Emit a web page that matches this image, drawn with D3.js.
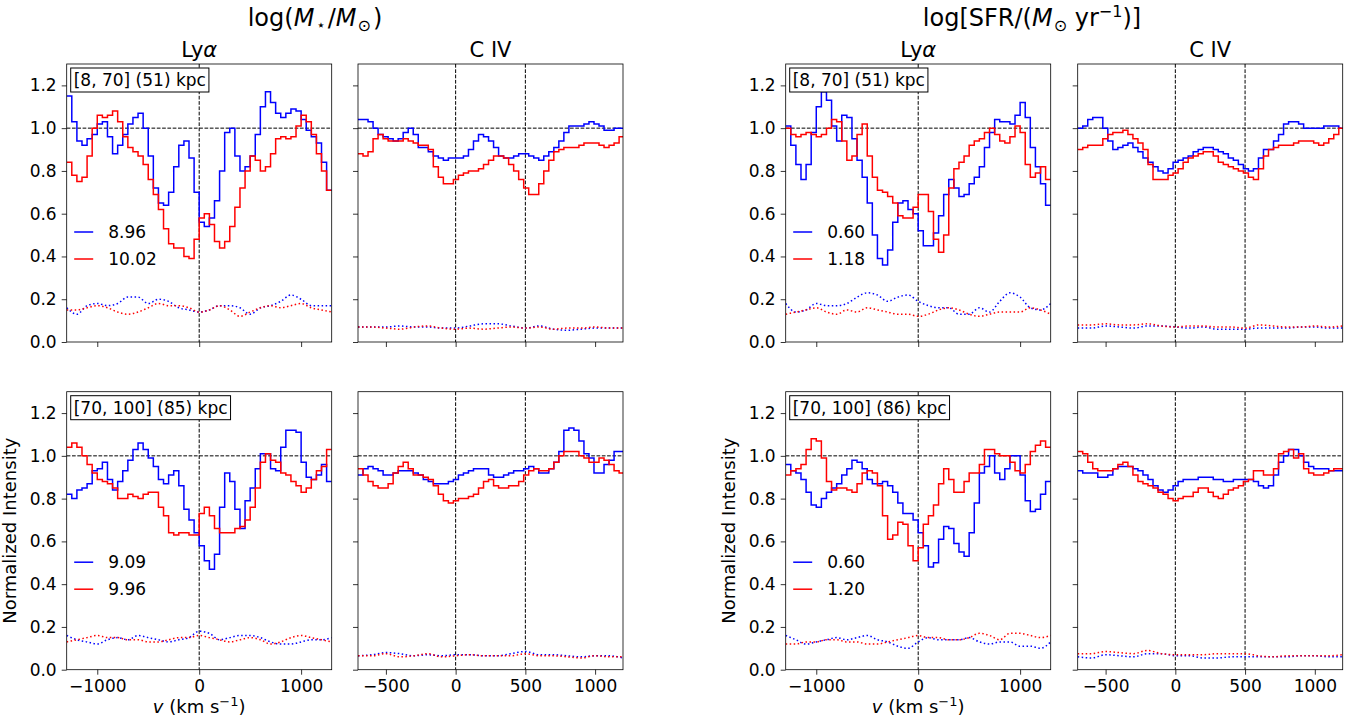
<!DOCTYPE html>
<html lang="en">
<head>
<meta charset="UTF-8">
<title>Lya / C IV stacks</title>
<script src="https://cdn.jsdelivr.net/npm/d3@7"></script>
<style>
  body { margin: 0; background: #fff; }
  svg text { font-family: "DejaVu Sans", sans-serif; fill: #000; }
  .axis path.domain { display: none; }
  .axis line { stroke: #000; stroke-width: 0.8; }
  .axis text { font-size: 17px; font-family: "DejaVu Sans", sans-serif; }
  .ref { stroke: #000; stroke-width: 1; stroke-dasharray: 3.7,1.6; fill: none; }
  .spec { fill: none; stroke-width: 1.5; }
  .err { fill: none; stroke-width: 1.5; stroke-dasharray: 1.5,2.5; }
</style>
</head>
<body>
<svg id="chart" width="1364" height="726"></svg>
<script>
// ---- binning of the stacked spectra (km/s) ----
var lyaBin = {start: -1300, width: 50};
var civBin = {start: -700, width: 36};
// noise curves are read every 100 km/s
var lyaNoiseV = [-1300,-1200,-1100,-1000,-900,-800,-700,-600,-500,-400,-300,-200,-100,0,100,200,300,400,500,600,700,800,900,1000,1100,1200,1300];
var civNoiseV = [-700,-600,-500,-400,-300,-200,-100,0,100,200,300,400,500,600,700,800,900,1000,1100,1200];

var lyaTicks = [-1000, 0, 1000];
var civTicks = [-500, 0, 500, 1000];
var yTicks = [0, 0.2, 0.4, 0.6, 0.8, 1.0, 1.2];
var lyaMarks = [0];
var civMarks = [0, 500];

var massLegend = [["8.96", "10.02"], ["9.09", "9.96"]];
var sfrLegend = [["0.60", "1.18"], ["0.60", "1.20"]];
var massAnnuli = ["[8, 70] (51) kpc", "[70, 100] (85) kpc"];
var sfrAnnuli = ["[8, 70] (51) kpc", "[70, 100] (86) kpc"];

// ---- stellar mass split, inner annulus ----
var massLyaInBlue = [1.15,1.03,0.94,0.92,0.95,0.97,1.02,1.03,0.96,0.88,0.92,0.97,1.02,1.05,1.07,1.00,0.87,0.72,0.65,0.64,0.70,0.82,0.92,0.94,0.86,0.70,0.56,0.54,0.58,0.66,0.80,0.98,1.00,0.87,0.80,0.82,0.87,0.97,1.10,1.17,1.12,1.07,1.05,1.07,1.09,1.08,1.04,0.99,0.96,0.93,0.84,0.71];
var massLyaInRed = [0.84,0.78,0.75,0.77,0.87,1.00,1.06,1.05,1.06,1.08,1.03,0.96,0.91,0.89,0.87,0.83,0.76,0.69,0.62,0.53,0.46,0.44,0.44,0.40,0.39,0.48,0.58,0.60,0.55,0.47,0.44,0.47,0.54,0.63,0.72,0.80,0.87,0.85,0.80,0.82,0.88,0.95,0.96,0.95,0.96,1.01,1.06,1.03,0.97,0.88,0.80,0.71];
var massLyaInBlueErr = [0.16,0.13,0.17,0.18,0.17,0.18,0.21,0.21,0.18,0.20,0.19,0.16,0.15,0.14,0.15,0.17,0.17,0.16,0.13,0.16,0.17,0.19,0.22,0.20,0.17,0.17,0.17];
var massLyaInRedErr = [0.15,0.15,0.16,0.17,0.16,0.14,0.13,0.14,0.16,0.18,0.17,0.17,0.16,0.14,0.15,0.17,0.15,0.12,0.14,0.16,0.17,0.16,0.17,0.18,0.16,0.15,0.14];
var massCivInBlue = [1.04,1.04,1.03,1.00,0.97,0.96,0.95,0.94,0.95,0.98,1.00,0.97,0.91,0.91,0.89,0.87,0.86,0.85,0.86,0.86,0.86,0.87,0.90,0.94,0.97,0.96,0.94,0.91,0.87,0.86,0.86,0.87,0.88,0.88,0.87,0.86,0.85,0.87,0.89,0.91,0.94,0.98,1.01,1.01,1.01,1.02,1.03,1.02,1.01,0.99,0.99,1.00,1.00];
var massCivInRed = [0.88,0.87,0.89,0.95,0.97,0.95,0.94,0.94,0.94,0.95,0.94,0.93,0.92,0.92,0.90,0.82,0.77,0.74,0.74,0.76,0.78,0.79,0.80,0.80,0.81,0.83,0.85,0.87,0.87,0.86,0.83,0.80,0.76,0.72,0.69,0.69,0.74,0.80,0.85,0.89,0.90,0.91,0.91,0.91,0.92,0.93,0.93,0.93,0.92,0.91,0.92,0.93,0.96];
var massCivInBlueErr = [0.07,0.07,0.07,0.075,0.07,0.07,0.065,0.065,0.075,0.085,0.085,0.075,0.065,0.075,0.06,0.055,0.06,0.065,0.065,0.065];
var massCivInRedErr = [0.07,0.07,0.065,0.06,0.07,0.075,0.065,0.06,0.065,0.06,0.065,0.07,0.065,0.07,0.06,0.065,0.065,0.07,0.065,0.065];

// ---- stellar mass split, outer annulus ----
var massLyaOutBlue = [0.82,0.80,0.84,0.85,0.87,0.93,0.94,0.97,0.89,0.84,0.88,0.93,0.98,1.03,1.06,1.03,0.99,0.95,0.89,0.87,0.91,0.93,0.86,0.75,0.70,0.64,0.58,0.51,0.47,0.54,0.76,0.92,0.88,0.75,0.66,0.79,0.85,0.94,1.01,1.01,0.94,0.93,1.04,1.12,1.12,1.11,0.97,0.90,0.89,0.91,0.96,0.88];
var massLyaOutRed = [1.04,1.06,1.04,1.00,0.96,0.92,0.89,0.88,0.87,0.85,0.80,0.80,0.82,0.81,0.80,0.82,0.83,0.83,0.76,0.72,0.64,0.63,0.64,0.64,0.63,0.63,0.73,0.76,0.72,0.66,0.64,0.64,0.64,0.66,0.67,0.70,0.76,0.85,0.97,1.01,0.98,0.97,0.92,0.91,0.88,0.86,0.83,0.85,0.89,0.93,0.95,1.03];
var massLyaOutBlueErr = [0.16,0.14,0.13,0.12,0.14,0.15,0.14,0.16,0.15,0.14,0.13,0.14,0.15,0.18,0.17,0.14,0.15,0.16,0.16,0.15,0.13,0.12,0.12,0.13,0.14,0.14,0.15];
var massLyaOutRedErr = [0.13,0.14,0.15,0.16,0.15,0.15,0.14,0.14,0.13,0.13,0.14,0.15,0.15,0.16,0.15,0.14,0.13,0.14,0.15,0.14,0.12,0.13,0.15,0.16,0.15,0.14,0.13];
var massCivOutBlue = [0.91,0.94,0.95,0.94,0.93,0.91,0.91,0.92,0.93,0.93,0.93,0.92,0.91,0.89,0.88,0.87,0.87,0.87,0.88,0.89,0.91,0.92,0.93,0.94,0.94,0.94,0.91,0.90,0.90,0.91,0.92,0.93,0.93,0.94,0.95,0.94,0.92,0.92,0.94,0.97,1.02,1.12,1.13,1.12,1.07,1.01,0.99,0.92,0.92,0.96,0.98,1.02,1.02];
var massCivOutRed = [0.94,0.91,0.88,0.86,0.85,0.85,0.87,0.92,0.95,0.97,0.94,0.91,0.91,0.90,0.89,0.86,0.82,0.79,0.78,0.79,0.80,0.80,0.81,0.82,0.85,0.88,0.89,0.86,0.85,0.85,0.86,0.86,0.88,0.91,0.93,0.94,0.93,0.93,0.94,0.97,1.00,1.02,1.02,1.02,1.00,0.99,0.97,0.97,0.99,0.98,0.96,0.93,0.92];
var massCivOutBlueErr = [0.065,0.07,0.08,0.075,0.065,0.07,0.065,0.07,0.07,0.065,0.065,0.075,0.085,0.07,0.07,0.065,0.06,0.065,0.065,0.055];
var massCivOutRedErr = [0.065,0.065,0.075,0.06,0.065,0.075,0.06,0.065,0.07,0.065,0.065,0.065,0.075,0.065,0.065,0.06,0.055,0.065,0.06,0.06];

// ---- SFR split, inner annulus ----
var sfrLyaInBlue = [1.01,0.92,0.83,0.76,0.83,0.98,1.10,1.17,1.13,1.01,0.94,1.06,1.05,0.95,0.85,0.77,0.65,0.50,0.39,0.36,0.43,0.56,0.65,0.66,0.62,0.60,0.52,0.45,0.45,0.51,0.59,0.69,0.76,0.72,0.68,0.69,0.74,0.77,0.82,0.91,0.98,1.04,1.03,1.03,1.02,1.06,1.12,1.05,0.91,0.82,0.74,0.64];
var sfrLyaInRed = [1.00,0.97,0.96,0.97,0.98,0.97,0.96,0.97,1.00,1.04,1.03,0.94,0.85,0.87,0.97,1.02,0.87,0.77,0.71,0.70,0.68,0.65,0.59,0.58,0.58,0.63,0.69,0.69,0.61,0.48,0.42,0.50,0.72,0.81,0.84,0.87,0.92,0.94,0.95,0.98,1.00,0.97,0.94,0.93,0.96,1.01,0.98,0.83,0.77,0.79,0.82,0.76];
var sfrLyaInBlueErr = [0.18,0.14,0.15,0.18,0.17,0.17,0.18,0.21,0.23,0.22,0.19,0.21,0.22,0.19,0.17,0.16,0.16,0.13,0.13,0.16,0.14,0.19,0.23,0.21,0.16,0.15,0.18];
var sfrLyaInRedErr = [0.13,0.14,0.15,0.16,0.14,0.13,0.15,0.14,0.16,0.15,0.14,0.13,0.13,0.12,0.13,0.15,0.16,0.15,0.13,0.12,0.13,0.14,0.14,0.14,0.16,0.15,0.13];
var sfrCivInBlue = [1.00,1.01,1.04,1.05,1.05,1.00,0.94,0.90,0.91,0.92,0.93,0.91,0.89,0.86,0.84,0.82,0.80,0.79,0.81,0.84,0.85,0.86,0.87,0.89,0.90,0.91,0.91,0.90,0.89,0.88,0.86,0.85,0.83,0.81,0.80,0.81,0.86,0.90,0.90,0.94,0.97,1.02,1.03,1.03,1.02,1.00,1.00,1.00,1.00,1.01,1.01,1.01,1.00];
var sfrCivInRed = [0.90,0.91,0.92,0.92,0.92,0.95,0.97,0.98,0.98,0.99,0.97,0.95,0.93,0.90,0.83,0.76,0.76,0.76,0.78,0.79,0.81,0.84,0.86,0.87,0.88,0.89,0.89,0.87,0.84,0.83,0.82,0.81,0.80,0.79,0.77,0.76,0.81,0.87,0.90,0.91,0.92,0.92,0.92,0.93,0.94,0.94,0.94,0.93,0.92,0.93,0.95,0.97,1.00];
var sfrCivInBlueErr = [0.065,0.065,0.075,0.07,0.065,0.075,0.075,0.07,0.065,0.07,0.06,0.06,0.06,0.065,0.065,0.065,0.07,0.07,0.065,0.065];
var sfrCivInRedErr = [0.08,0.08,0.085,0.08,0.08,0.085,0.075,0.07,0.075,0.075,0.07,0.07,0.065,0.08,0.075,0.07,0.07,0.075,0.07,0.075];

// ---- SFR split, outer annulus ----
var sfrLyaOutBlue = [0.96,0.93,0.92,0.89,0.83,0.77,0.76,0.80,0.83,0.85,0.87,0.91,0.94,0.98,0.97,0.94,0.89,0.87,0.87,0.88,0.86,0.83,0.78,0.73,0.73,0.70,0.64,0.58,0.48,0.50,0.61,0.67,0.66,0.59,0.55,0.53,0.64,0.78,0.92,0.95,1.00,0.92,0.89,0.94,1.00,1.00,0.91,0.79,0.74,0.75,0.82,0.88];
var sfrLyaOutRed = [0.91,0.93,0.94,0.96,1.03,1.08,1.07,0.99,0.88,0.84,0.85,0.85,0.84,0.83,0.87,0.92,0.93,0.92,0.86,0.72,0.61,0.63,0.69,0.68,0.58,0.51,0.57,0.68,0.72,0.77,0.87,0.94,0.89,0.83,0.83,0.88,0.92,0.92,0.96,1.03,1.03,1.01,1.00,1.00,0.97,0.93,0.92,0.96,1.02,1.05,1.07,1.04];
var sfrLyaOutBlueErr = [0.16,0.14,0.12,0.13,0.14,0.15,0.14,0.15,0.16,0.14,0.13,0.11,0.10,0.13,0.15,0.14,0.14,0.14,0.15,0.13,0.12,0.13,0.13,0.11,0.11,0.10,0.13];
var sfrLyaOutRedErr = [0.12,0.12,0.13,0.13,0.14,0.14,0.13,0.13,0.12,0.12,0.13,0.14,0.15,0.16,0.15,0.15,0.14,0.14,0.15,0.17,0.16,0.14,0.17,0.17,0.16,0.15,0.16];
var sfrCivOutBlue = [0.93,0.92,0.92,0.92,0.90,0.90,0.91,0.94,0.95,0.95,0.95,0.94,0.93,0.91,0.89,0.86,0.84,0.83,0.84,0.86,0.88,0.89,0.89,0.89,0.90,0.90,0.90,0.89,0.89,0.88,0.88,0.89,0.89,0.89,0.89,0.88,0.86,0.85,0.86,0.91,0.97,1.00,1.03,1.03,1.00,0.97,0.95,0.94,0.94,0.94,0.93,0.93,0.93];
var sfrCivOutRed = [1.02,1.01,0.97,0.94,0.93,0.93,0.93,0.94,0.96,0.97,0.95,0.91,0.88,0.87,0.86,0.85,0.83,0.82,0.80,0.79,0.80,0.81,0.81,0.83,0.85,0.85,0.83,0.81,0.80,0.82,0.84,0.85,0.86,0.88,0.89,0.93,0.93,0.91,0.91,0.94,1.01,1.02,1.03,0.99,1.01,0.94,0.92,0.91,0.91,0.92,0.93,0.94,0.94];
var sfrCivOutBlueErr = [0.06,0.055,0.07,0.065,0.06,0.075,0.075,0.065,0.065,0.055,0.055,0.06,0.06,0.06,0.06,0.06,0.065,0.065,0.06,0.06];
var sfrCivOutRedErr = [0.075,0.075,0.085,0.08,0.075,0.09,0.075,0.07,0.07,0.07,0.075,0.075,0.075,0.065,0.06,0.065,0.065,0.065,0.065,0.07];

// ---- layout ----
var W = 265, H = 278;
var colX = [66.7, 358, 785.7, 1077.7];
var rowY = [64, 391.7];
var blue = "#0000ff", red = "#ff0000";

var panels = [
  {col: 0, row: 0, kind: "lya", b: massLyaInBlue, r: massLyaInRed, be: massLyaInBlueErr, re: massLyaInRedErr, legend: massLegend[0], box: massAnnuli[0]},
  {col: 1, row: 0, kind: "civ", b: massCivInBlue, r: massCivInRed, be: massCivInBlueErr, re: massCivInRedErr},
  {col: 0, row: 1, kind: "lya", b: massLyaOutBlue, r: massLyaOutRed, be: massLyaOutBlueErr, re: massLyaOutRedErr, legend: massLegend[1], box: massAnnuli[1]},
  {col: 1, row: 1, kind: "civ", b: massCivOutBlue, r: massCivOutRed, be: massCivOutBlueErr, re: massCivOutRedErr},
  {col: 2, row: 0, kind: "lya", b: sfrLyaInBlue, r: sfrLyaInRed, be: sfrLyaInBlueErr, re: sfrLyaInRedErr, legend: sfrLegend[0], box: sfrAnnuli[0]},
  {col: 3, row: 0, kind: "civ", b: sfrCivInBlue, r: sfrCivInRed, be: sfrCivInBlueErr, re: sfrCivInRedErr},
  {col: 2, row: 1, kind: "lya", b: sfrLyaOutBlue, r: sfrLyaOutRed, be: sfrLyaOutBlueErr, re: sfrLyaOutRedErr, legend: sfrLegend[1], box: sfrAnnuli[1]},
  {col: 3, row: 1, kind: "civ", b: sfrCivOutBlue, r: sfrCivOutRed, be: sfrCivOutBlueErr, re: sfrCivOutRedErr}
];

var svg = d3.select("#chart");

var y = d3.scaleLinear().domain([0, 1.3]).range([H, 0]);
var xLya = d3.scaleLinear().domain([-1300, 1300]).range([0, W]);
var xCiv = d3.scaleLinear().domain([-700, 1200]).range([0, W]);

// histogram-like steps: each value spans one full bin
function stepPoints(vals, bin) {
  var pts = [];
  vals.forEach(function(v, i) {
    pts.push([bin.start + i * bin.width, v]);
    pts.push([bin.start + (i + 1) * bin.width, v]);
  });
  return pts;
}

function drawPanel(p) {
  var lya = p.kind === "lya";
  var x = lya ? xLya : xCiv;
  var bin = lya ? lyaBin : civBin;
  var noiseV = lya ? lyaNoiseV : civNoiseV;

  var g = svg.append("g")
      .attr("transform", "translate(" + colX[p.col] + "," + rowY[p.row] + ")");

  var clipId = "clip-" + p.col + "-" + p.row;
  g.append("clipPath").attr("id", clipId)
    .append("rect").attr("width", W).attr("height", H);
  var plot = g.append("g").attr("clip-path", "url(#" + clipId + ")");

  plot.append("line").attr("class", "ref")
      .attr("x1", 0).attr("x2", W).attr("y1", y(1)).attr("y2", y(1));
  (lya ? lyaMarks : civMarks).forEach(function(v) {
    plot.append("line").attr("class", "ref")
        .attr("x1", x(v)).attr("x2", x(v)).attr("y1", 0).attr("y2", H);
  });

  var step = d3.line().x(function(d) { return x(d[0]); }).y(function(d) { return y(d[1]); });
  var smooth = d3.line()
      .x(function(d, i) { return x(noiseV[i]); })
      .y(function(d) { return y(d); })
      .curve(d3.curveMonotoneX);

  [[p.b, p.be, blue], [p.r, p.re, red]].forEach(function(s) {
    plot.append("path").attr("class", "spec").attr("stroke", s[2])
        .attr("d", step(stepPoints(s[0], bin)));
    plot.append("path").attr("class", "err").attr("stroke", s[2])
        .attr("d", smooth(s[1]));
  });

  // axes
  var xAxis = d3.axisBottom(x).tickValues(lya ? lyaTicks : civTicks)
      .tickSize(5).tickPadding(5)
      .tickFormat(p.row === 0 ? "" : d3.format("d"));
  g.append("g").attr("class", "axis").attr("transform", "translate(0," + H + ")").call(xAxis);

  var yAxis = d3.axisLeft(y).tickValues(yTicks)
      .tickSize(5).tickPadding(5)
      .tickFormat(lya ? d3.format(".1f") : "");
  g.append("g").attr("class", "axis").call(yAxis);

  g.append("rect").attr("width", W).attr("height", H)
      .attr("fill", "none").attr("stroke", "#000").attr("stroke-width", 0.8);

  if (p.row === 0) {
    g.append("text").attr("x", W / 2).attr("y", -7)
        .attr("text-anchor", "middle").style("font-size", "21px")
        .html(lya ? 'Ly<tspan font-style="italic">α</tspan>' : "C IV");
  }

  if (lya) {
    // annulus box
    var boxRect = g.append("rect");
    var t = g.append("text").attr("x", 7).attr("y", 16)
        .attr("dominant-baseline", "central").style("font-size", "17px")
        .text(p.box);
    var bb = t.node().getBBox();
    boxRect
        .attr("x", bb.x - 3).attr("y", 4)
        .attr("width", bb.width + 6).attr("height", 24)
        .attr("fill", "#fff").attr("stroke", "#000").attr("stroke-width", 1);

    // legend
    var ly = p.row === 0 ? [168, 195] : [170.5, 197.5];
    [blue, red].forEach(function(c, i) {
      g.append("line").attr("x1", 7.5).attr("x2", 26.5)
          .attr("y1", ly[i]).attr("y2", ly[i])
          .attr("stroke", c).attr("stroke-width", 1.5);
      g.append("text").attr("x", 41.5).attr("y", ly[i])
          .attr("dominant-baseline", "central").style("font-size", "17px")
          .text(p.legend[i]);
    });

    if (p.row === 1) {
      g.append("text")
          .attr("transform", "translate(-51," + (H / 2) + ") rotate(-90)")
          .attr("text-anchor", "middle").style("font-size", "18px")
          .text("Normalized Intensity");
      g.append("text").attr("x", W / 2).attr("y", H + 43)
          .attr("text-anchor", "middle").style("font-size", "18px")
          .html('<tspan font-style="italic">v</tspan> (km s<tspan dy="-7" font-size="13px">−1</tspan><tspan dy="7">)</tspan>');
    }
  }
}

panels.forEach(drawPanel);

// group titles
svg.append("text").attr("x", 315).attr("y", 26).attr("text-anchor", "middle")
    .style("font-size", "24px")
    .html('log(<tspan font-style="italic">M</tspan><tspan dx="2" dy="4" font-size="15px">⋆</tspan><tspan dx="2" dy="-4">/</tspan><tspan font-style="italic">M</tspan><tspan dx="1" dy="5" font-size="16px">⊙</tspan><tspan dx="2" dy="-5">)</tspan>');
svg.append("text").attr("x", 1032).attr("y", 26).attr("text-anchor", "middle")
    .style("font-size", "24px")
    .html('log[SFR/(<tspan font-style="italic">M</tspan><tspan dx="1" dy="5" font-size="16px">⊙</tspan><tspan dy="-5"> yr</tspan><tspan dy="-9" font-size="16px">−1</tspan><tspan dy="9">)]</tspan>');
</script>
</body>
</html>
